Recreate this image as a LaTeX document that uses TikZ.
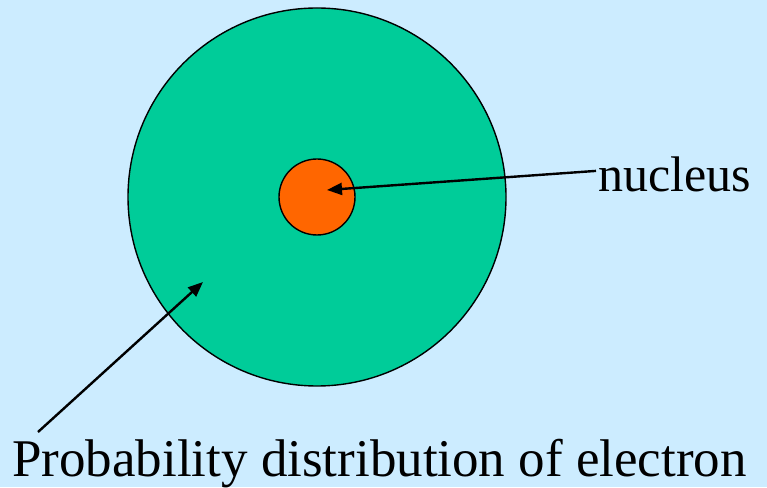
\documentclass[tikz,border=0pt]{standalone}
\usepackage{fontspec}
\setmainfont{Liberation Serif}
\usetikzlibrary{arrows.meta, positioning}
\definecolor{skyback}{RGB}{204,236,255}
\definecolor{cloudgreen}{RGB}{0,204,153}
\definecolor{nucorange}{RGB}{255,102,0}

\begin{document}
\begin{tikzpicture}[x=1pt, y=1pt, font=\fontsize{53}{60}\selectfont]
		\fill[skyback] (0,0) rectangle (767,487);
		\useasboundingbox (0,0) rectangle (767,487);
		\node[circle, draw=black, line width=1.4pt, fill=cloudgreen, minimum size=378pt,
		      inner sep=0pt] (cloud) at (317,290) {};
		\node[circle, draw=black, line width=1.4pt, fill=nucorange, minimum size=76pt,
		      inner sep=0pt] (nuc) at (317,290) {};
		\node[anchor=base west, inner sep=0pt, font=\fontsize{50}{56}\selectfont]
		      (nuclabel) at (598,295) {nucleus};
		\node[anchor=base west, inner sep=0pt] (problabel) at (12,11)
		      {Probability distribution of electron};
		\coordinate (nuctip) at (327,297);
		\coordinate (cloudtip) at (203,205);
		\coordinate (probtail) at (38,55);
		\draw[-{Triangle[length=15pt, width=12pt]}, line width=2.4pt]
		      ([xshift=-2pt, yshift=4pt]nuclabel.west) -- (nuctip);
		\draw[-{Triangle[length=15pt, width=12pt]}, line width=2.4pt]
		      (probtail) -- (cloudtip);
	\end{tikzpicture}
\end{document}
